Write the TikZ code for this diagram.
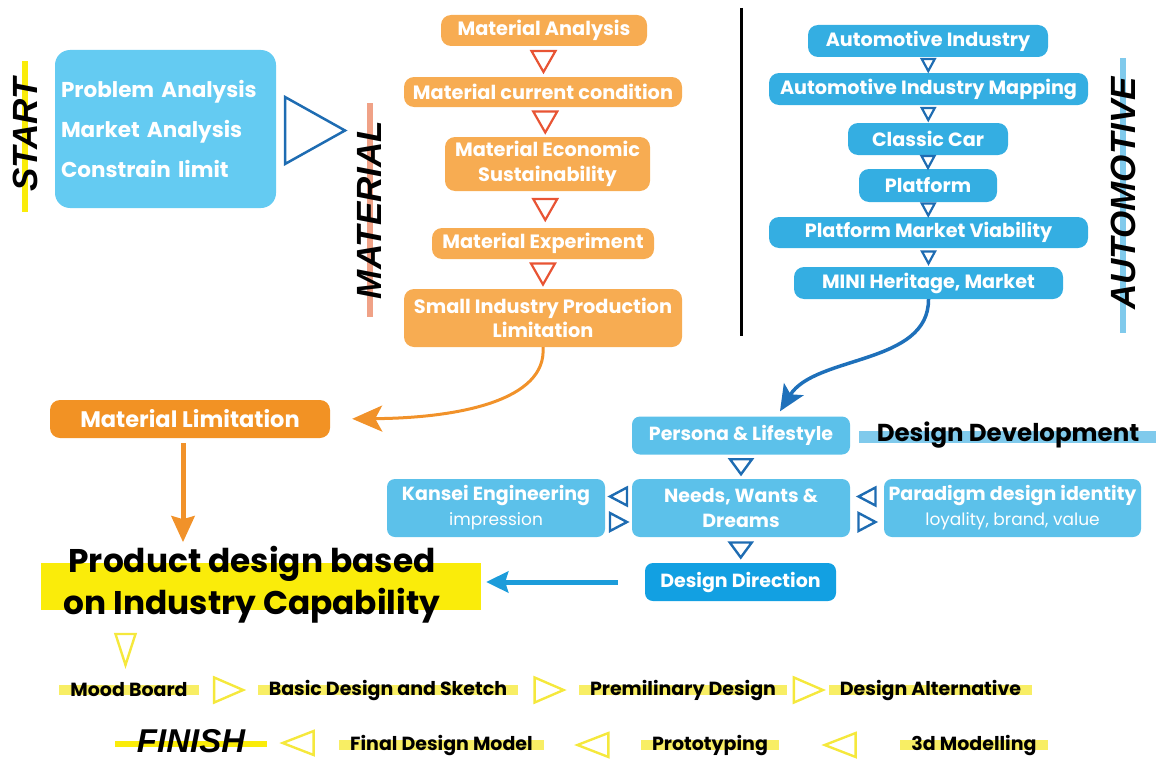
\documentclass[tikz,border=0pt]{standalone}
\usepackage{fontspec}
\setmainfont{Poppins}
\newfontfamily\sidefam{Liberation Sans}
\usetikzlibrary{arrows.meta,calc,backgrounds}
\definecolor{startc}{RGB}{100,203,242}
\definecolor{matc}{RGB}{247,172,82}
\definecolor{limc}{RGB}{242,146,36}
\definecolor{mattric}{RGB}{232,84,52}
\definecolor{autoc}{RGB}{52,174,226}
\definecolor{devc}{RGB}{92,193,234}
\definecolor{dirc}{RGB}{18,160,226}
\definecolor{navy}{RGB}{30,108,178}
\definecolor{hiyel}{RGB}{250,236,10}
\definecolor{stepyel}{RGB}{248,238,100}
\definecolor{triyel}{RGB}{245,232,60}
\definecolor{salm}{RGB}{240,162,135}
\definecolor{autobar}{RGB}{128,202,236}
\definecolor{orarr}{RGB}{241,146,42}
\definecolor{blarr}{RGB}{28,156,218}
\definecolor{blcur}{RGB}{30,112,186}
\newcommand{\startfont}{\fontsize{21.5}{40}\selectfont\bfseries}
\newcommand{\matfont}{\fontsize{19.3}{24.5}\selectfont\bfseries}
\newcommand{\autfont}{\fontsize{19.2}{22}\selectfont\bfseries}
\newcommand{\devfont}{\fontsize{19}{25}\selectfont\bfseries}
\newcommand{\devsubfont}{\fontsize{17}{21}\selectfont\mdseries}
\newcommand{\prodfont}{\fontsize{32.8}{42}\selectfont\bfseries}
\newcommand{\stepfont}{\fontsize{19}{20}\selectfont\bfseries}
\newcommand{\sidefont}{\fontsize{35}{36}\selectfont\sidefam\bfseries\itshape}
\tikzset{
  startbox/.style={fill=startc,rounded corners=15pt,text=white,font=\startfont,align=left,inner xsep=6pt,inner ysep=0pt,text width=209pt,minimum width=221pt,minimum height=158pt},
  matbox/.style={fill=matc,rounded corners=10pt,text=white,font=\matfont,align=center,inner sep=0pt},
  autobox/.style={fill=autoc,rounded corners=10pt,text=white,font=\autfont,align=center,inner sep=0pt,minimum height=32pt},
  devbox/.style={fill=devc,rounded corners=8pt,text=white,font=\devfont,align=center,inner sep=0pt,minimum height=58pt},
  dirbox/.style={devbox,fill=dirc,minimum height=38pt},
  sidelab/.style={font=\sidefont,text=black,inner sep=0pt},
  steplab/.style={font=\stepfont,text=black,inner sep=0pt},
  bigtri/.style={draw=navy,line width=2.5pt},
  mattri/.style={draw=mattric,line width=2.2pt},
  autotri/.style={draw=navy,line width=2.2pt},
  devtri/.style={draw=navy,line width=2.4pt},
  steptri/.style={draw=triyel,line width=2.4pt},
  orcurve/.style={-{Stealth[length=30pt,width=26pt,inset=7pt]},orarr,line width=3pt},
  ordown/.style={-{Stealth[length=26pt,width=23pt,inset=3pt]},orarr,line width=5pt},
  blcurve/.style={-{Stealth[length=26pt,width=23pt,inset=6pt]},blcur,line width=3.5pt},
  blstraight/.style={-{Stealth[length=22pt,width=21pt,inset=3pt]},blarr,line width=5pt},
}
\begin{document}
\begin{tikzpicture}[x=1pt,y=-1pt]
\path[use as bounding box] (0,0) rectangle (1156,760);

% ---------- start ----------
\node[startbox] (intro) at (165.5,129) {Problem Analysis\\Market Analysis\\Constrain limit};
\node[sidelab,rotate=90] (startlab) at (25,135) {START};
\draw[bigtri] (285,97) -- (345,130.5) -- (285,164) -- cycle;

% ---------- material column ----------
\node[sidelab,rotate=90] (matlab) at (369,210) {MATERIAL};
\node[matbox,minimum width=206pt,minimum height=31pt] (ma1) at (544,30.5) {Material Analysis};
\node[matbox,minimum width=278pt,minimum height=30pt] (ma2) at (543,92) {Material current condition};
\node[matbox,minimum width=205pt,minimum height=54pt] (ma3) at (547.5,164) {Material Economic\\Sustainability};
\node[matbox,minimum width=222pt,minimum height=31pt] (ma4) at (543,243.5) {Material Experiment};
\node[matbox,minimum width=278pt,minimum height=58pt] (ma5) at (543,318) {Small Industry Production\\Limitation};
\foreach \a/\b in {ma1/ma2,ma2/ma3,ma3/ma4,ma4/ma5}
  \draw[mattri] ($(\a.south)!.5!(\b.north)$) ++(-12,-10.5) -- ++(24,0) -- ++(-12,21) -- cycle;

% divider
\draw[line width=3pt] (741,8) -- (741,336);

% ---------- automotive column ----------
\node[sidelab,rotate=90] (autolab) at (1123.5,193.5) {AUTOMOTIVE};
\node[autobox,minimum width=240pt] (au1) at (928,41) {Automotive Industry};
\node[autobox,minimum width=319pt] (au2) at (928.5,89) {Automotive Industry Mapping};
\node[autobox,minimum width=160pt] (au3) at (928,139) {Classic Car};
\node[autobox,minimum width=138pt,minimum height=33pt] (au4) at (928,185.5) {Platform};
\node[autobox,minimum width=319pt,minimum height=31pt] (au5) at (928.5,232.5) {Platform Market Viability};
\node[autobox,minimum width=269pt] (au6) at (928.5,283) {MINI Heritage, Market};
\foreach \a/\b in {au1/au2,au2/au3,au3/au4,au4/au5,au5/au6}
  \draw[autotri] ($(\a.south)!.5!(\b.north)$) ++(-6.5,-6) -- ++(13,0) -- ++(-6.5,12) -- cycle;

% ---------- design development ----------
\node[devbox,minimum width=218pt,minimum height=38pt] (persona) at (741,435.5) {Persona \& Lifestyle};
\node[font=\fontsize{24.5}{26}\selectfont\bfseries,inner sep=0pt] (devlab) at (1008,435) {Design Development};
\node[devbox,minimum width=218pt] (needs) at (741,508) {Needs, Wants \&\\Dreams};
\node[devbox,minimum width=218pt] (kansei) at (496,508) {Kansei Engineering\\{\devsubfont impression}};
\node[devbox,minimum width=257pt] (paradigm) at (1012.5,508) {Paradigm design identity\\{\devsubfont loyality, brand, value}};
\node[dirbox,minimum width=191pt] (direction) at (740.5,582) {Design Direction};
\foreach \a/\b in {persona/needs,needs/direction}
  \draw[devtri] ($(\a.south)!.5!(\b.north)$) ++(-11,-7.5) -- ++(22,0) -- ++(-11,15) -- cycle;
% side pointers, one pair on each flank of the centre box
\foreach \a/\b in {kansei/needs,needs/paradigm}{
  \draw[devtri] ($(\a.east)!.5!(\b.west)$) ++(8.5,-20.5) -- ++(0,18) -- ++(-17,-9) -- cycle;
  \draw[devtri] ($(\a.east)!.5!(\b.west)$) ++(-8.5,5) -- ++(0,18) -- ++(17,-9) -- cycle;
}

% ---------- outcome ----------
\node[matbox,fill=limc,font=\fontsize{22.5}{24}\selectfont\bfseries,minimum width=280pt,minimum height=38pt] (matlim) at (190,419) {Material Limitation};
\node[fill=hiyel,inner sep=0pt,minimum width=440pt,minimum height=47pt] (prodbar) at (261,586.5) {};
\node[font=\prodfont,align=center,inner sep=0pt] (product) at (252,585) {Product design based\\on Industry Capability};

\draw[orcurve,shorten >=22pt] (ma5.south) .. controls (547,400) and (460,418) .. (matlim.east);
\draw[blcurve] (au6.south) .. controls (929,365) and (815,355) .. ([shift={(39,-5)}]persona.north);
\draw[ordown] ([shift={(-7,5)}]matlim.south) -- ++(0,99);
\draw[blstraight,shorten <=27pt,shorten >=5pt] (direction.west) -- (direction.west -| prodbar.east);
\draw[steptri] (125.5,649.5) ++(-10,-15.5) -- ++(20,0) -- ++(-10,31) -- cycle;

% ---------- steps ----------
\node[steplab] (mood) at (129,690) {Mood Board};
\node[steplab] (basic) at (388,690) {Basic Design and Sketch};
\node[steplab] (premil) at (683,690) {Premilinary Design};
\node[steplab] (altdes) at (930.5,690) {Design Alternative};
\node[sidelab,font=\fontsize{33}{34}\selectfont\sidefam\bfseries\itshape] (finish) at (191,741) {FINISH};
\node[steplab] (finalmod) at (441.5,745) {Final Design Model};
\node[steplab] (proto) at (710,745) {Prototyping};
\node[steplab] (modl) at (974,745) {3d Modelling};
\foreach \a/\b in {mood/basic,basic/premil,premil/altdes}
  \draw[steptri] ($(\a.east)!.5!(\b.west)$) ++(-14,-12.5) -- ++(0,25) -- ++(29,-12.5) -- cycle;
\foreach \a/\b in {finish/finalmod,finalmod/proto,proto/modl}
  \draw[steptri] ($(\a.east)!.5!(\b.west)$) ++(16,-12) -- ++(0,24) -- ++(-31,-12) -- cycle;

% highlight strips behind labels
\begin{scope}[on background layer]
  \fill[hiyel] (22,61) rectangle (28,212);
  \fill[salm] (367,103) rectangle (373,317);
  \fill[autobar] (1120,58) rectangle (1126,333);
  \fill[hiyel] (115,741) rectangle (267,747);
  \fill[autobar] (859,431) rectangle (1156,443);
  \foreach \n in {mood,basic,premil,altdes,finalmod,proto,modl}
    \fill[stepyel] ([shift={(-11,-5)}]\n.west) rectangle ([shift={(11,5)}]\n.east);
\end{scope}
\end{tikzpicture}
\end{document}
